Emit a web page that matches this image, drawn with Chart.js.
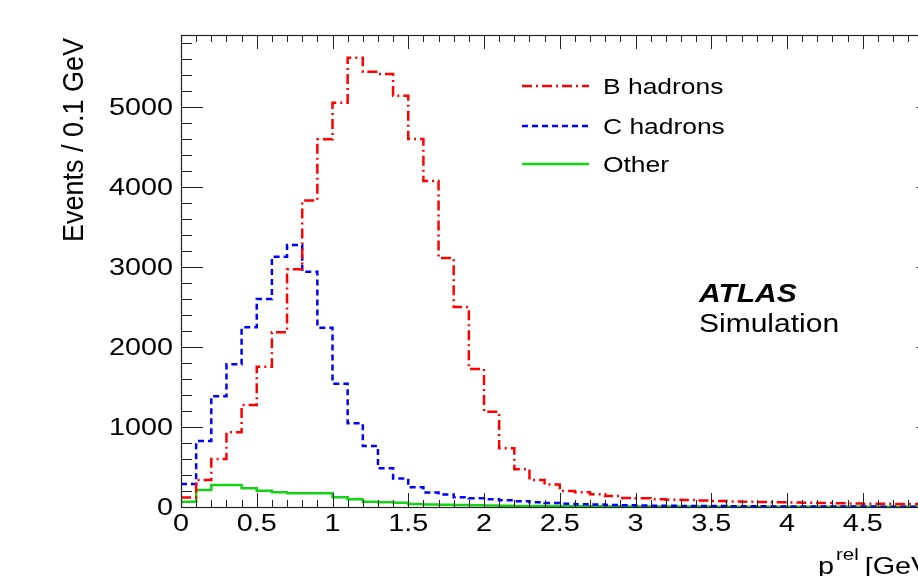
<!DOCTYPE html>
<html>
<head>
<meta charset="utf-8">
<title>p_T^rel templates</title>
<script src="https://cdn.jsdelivr.net/npm/chart.js@4.4.1/dist/chart.umd.min.js"></script>
<style>
  html, body { margin: 0; padding: 0; background: #fff; overflow: hidden; }
  #wrap { width: 960px; height: 576px; }
</style>
</head>
<body>
<div id="wrap"><canvas id="chart" width="960" height="576"></canvas></div>
<script>
// histogram bins: 0.1 GeV wide, from 0 to 5 GeV
const binWidth = 0.1;
const xMin = 0, xMax = 5;
const yMax = 5900;

// tick labels
const xTickValues = [0, 0.5, 1, 1.5, 2, 2.5, 3, 3.5, 4, 4.5, 5];
const yTickValues = [0, 1000, 2000, 3000, 4000, 5000];

// Events / 0.1 GeV
const bHadrons = [
  120, 337, 600, 933, 1275, 1754, 2183, 2971, 3830, 4596,
  5054, 5616, 5441, 5412, 5141, 4600, 4075, 3112, 2500, 1725,
  1191, 733, 473, 337, 280, 200, 183, 158, 137, 112,
  108, 96, 92, 86, 80, 75, 70, 66, 62, 58,
  55, 52, 49, 46, 44, 42, 40, 38, 36, 34
];
const cHadrons = [
  287, 825, 1385, 1783, 2246, 2600, 3129, 3275, 2942, 2242,
  1542, 1046, 762, 483, 355, 246, 180, 155, 122, 108,
  96, 85, 72, 60, 50, 42, 35, 30, 26, 22,
  19, 17, 15, 13, 12, 11, 10, 9, 8, 7,
  7, 6, 6, 5, 5, 5, 4, 4, 4, 3
];
const other = [
  67, 212, 275, 275, 233, 204, 183, 171, 171, 171,
  121, 96, 67, 58, 54, 37, 32, 28, 24, 21,
  18, 16, 14, 12, 11, 10, 9, 8, 7, 7,
  6, 6, 5, 5, 5, 4, 4, 4, 4, 3,
  3, 3, 3, 3, 2, 2, 2, 2, 2, 2
];

const seriesNames = ['B hadrons', 'C hadrons', 'Other'];

// text is drawn a bit wider than tall, like the original canvas
const SX = 1.2;
const FONT = '"Liberation Sans", Arial, Helvetica, sans-serif';

// turn bin contents into step points (left edges + closing right edge)
function histPoints(values) {
  const pts = values.map((v, i) => ({ x: +(i * binWidth).toFixed(2), y: v }));
  pts.push({ x: values.length * binWidth, y: values[values.length - 1] });
  return pts;
}

function drawText(ctx, text, x, y, font, align, sx) {
  ctx.save();
  ctx.font = font;
  const w = ctx.measureText(text).width * sx;
  let x0 = x;
  if (align === 'center') x0 = x - w / 2;
  if (align === 'right') x0 = x - w;
  ctx.translate(x0, y);
  ctx.scale(sx, 1);
  ctx.textAlign = 'left';
  ctx.textBaseline = 'alphabetic';
  ctx.fillText(text, 0, 0);
  ctx.restore();
  return w;
}

const rootFrame = {
  id: 'rootFrame',
  afterDatasetsDraw(chart) {
    const ctx = chart.ctx;
    const a = chart.chartArea;
    const xs = chart.scales.x, ys = chart.scales.y;

    ctx.save();
    ctx.fillStyle = '#000';
    ctx.strokeStyle = '#222';
    ctx.lineWidth = 1.2;
    ctx.strokeRect(a.left + 0.5, a.top + 0.5, a.right - a.left, a.bottom - a.top);

    // x ticks (bottom and top), major every 0.5, minor every 0.1
    ctx.lineWidth = 1;
    ctx.beginPath();
    for (let i = 0; i <= 50; i++) {
      const px = Math.round(xs.getPixelForValue(i * 0.1)) + 0.5;
      const len = i % 5 === 0 ? 14 : 7;
      ctx.moveTo(px, a.bottom); ctx.lineTo(px, a.bottom - len);
      ctx.moveTo(px, a.top); ctx.lineTo(px, a.top + len);
    }
    // y ticks (left and right), major every 1000, minor every 200
    for (let v = 0; v <= yMax; v += 200) {
      const py = Math.round(ys.getPixelForValue(v)) + 0.5;
      const len = v % 1000 === 0 ? 22 : 11;
      ctx.moveTo(a.left, py); ctx.lineTo(a.left + len, py);
      ctx.moveTo(a.right, py); ctx.lineTo(a.right - len, py);
    }
    ctx.stroke();

    // tick labels from the scales' own ticks
    const tickFont = '24px ' + FONT;
    xs.ticks.forEach(t => {
      const px = xs.getPixelForValue(t.value);
      drawText(ctx, String(t.value), px, 531, tickFont, 'center', SX);
    });
    ys.ticks.forEach(t => {
      const py = ys.getPixelForValue(t.value);
      drawText(ctx, String(t.value), a.left - 8, py + 8, tickFont, 'right', SX);
    });

    // y axis title, rotated, aligned to the top
    ctx.save();
    ctx.font = '27px ' + FONT;
    ctx.translate(83, a.top + 3);
    ctx.scale(1.12, 1);
    ctx.rotate(-Math.PI / 2);
    ctx.textAlign = 'right';
    ctx.textBaseline = 'alphabetic';
    ctx.fillText('Events / 0.1 GeV', 0, 0);
    ctx.restore();

    // x axis title: p^rel [GeV], right side
    let tx = 818;
    const w1 = drawText(ctx, 'p', tx, 574, '24px ' + FONT, 'left', SX);
    tx += w1 + 2;
    const w2 = drawText(ctx, 'rel', tx, 560, '17px ' + FONT, 'left', SX);
    tx += w2 + 6;
    drawText(ctx, '[GeV]', tx, 574, '24px ' + FONT, 'left', SX);

    // legend
    const legY = [86, 126, 164];
    chart.data.datasets.forEach((ds, i) => {
      ctx.save();
      ctx.strokeStyle = ds.borderColor;
      ctx.lineWidth = ds.borderWidth;
      ctx.setLineDash(ds.borderDash || []);
      ctx.beginPath();
      ctx.moveTo(522, legY[i]); ctx.lineTo(589, legY[i]);
      ctx.stroke();
      ctx.restore();
      drawText(ctx, ds.label, 603, legY[i] + 8, '22px ' + FONT, 'left', SX);
    });

    // ATLAS Simulation label
    drawText(ctx, 'ATLAS', 699, 302, 'italic bold 25px ' + FONT, 'left', SX);
    drawText(ctx, 'Simulation', 699, 332, '25px ' + FONT, 'left', SX);
    ctx.restore();
  }
};

new Chart(document.getElementById('chart'), {
  type: 'line',
  data: {
    datasets: [
      {
        label: seriesNames[0],
        data: histPoints(bHadrons),
        borderColor: '#ff0000',
        borderWidth: 2.5,
        borderDash: [10, 4, 2, 4],
        stepped: 'before',
        pointRadius: 0,
        fill: false
      },
      {
        label: seriesNames[1],
        data: histPoints(cHadrons),
        borderColor: '#0000ff',
        borderWidth: 2.5,
        borderDash: [6, 4],
        stepped: 'before',
        pointRadius: 0,
        fill: false
      },
      {
        label: seriesNames[2],
        data: histPoints(other),
        borderColor: '#14d214',
        borderWidth: 2.5,
        stepped: 'before',
        pointRadius: 0,
        fill: false
      }
    ]
  },
  options: {
    responsive: false,
    animation: false,
    layout: { padding: { top: 35, right: 21.5, left: 0, bottom: 0 } },
    plugins: {
      legend: { display: false },
      tooltip: { enabled: false }
    },
    scales: {
      x: {
        type: 'linear',
        min: xMin,
        max: xMax,
        ticks: { display: false },
        afterBuildTicks(scale) { scale.ticks = xTickValues.map(v => ({ value: v })); },
        grid: { display: false },
        border: { display: false },
        afterFit(scale) { scale.height = 69; }
      },
      y: {
        min: 0,
        max: yMax,
        ticks: { display: false },
        afterBuildTicks(scale) { scale.ticks = yTickValues.map(v => ({ value: v })); },
        grid: { display: false },
        border: { display: false },
        afterFit(scale) { scale.width = 181; }
      }
    }
  },
  plugins: [rootFrame]
});
</script>
</body>
</html>
